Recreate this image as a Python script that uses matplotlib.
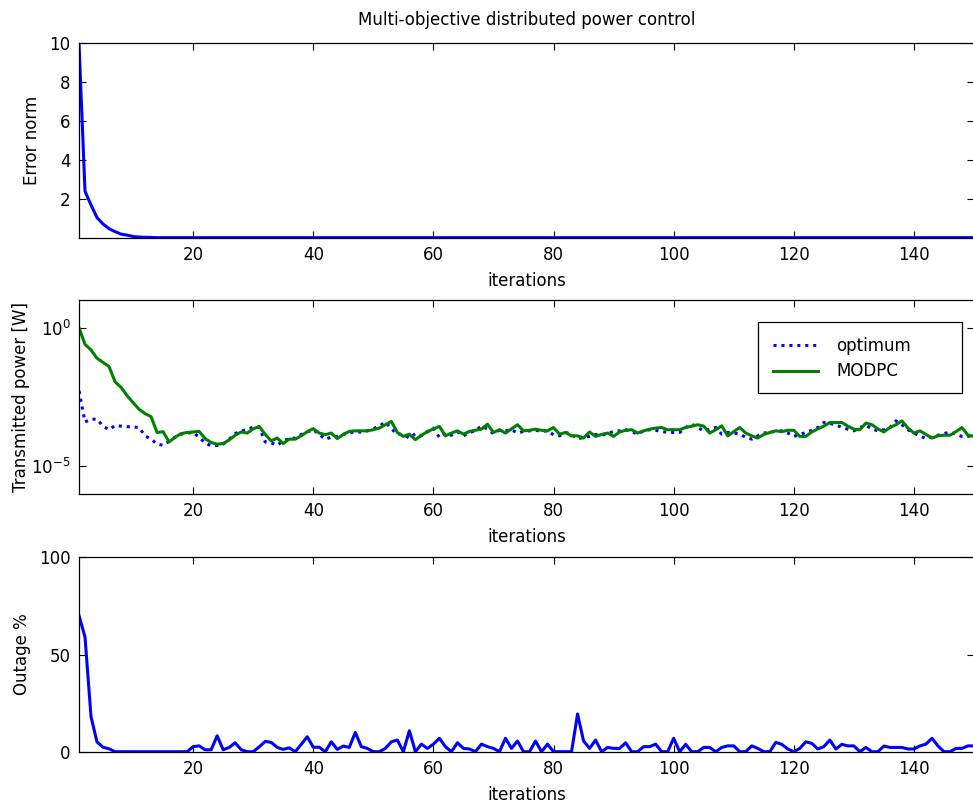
import matplotlib
matplotlib.use("Agg")
import matplotlib.pyplot as plt
from matplotlib.patches import Rectangle
from matplotlib.ticker import NullLocator, FixedFormatter
import numpy as np

plt.rcParams["font.family"] = ["DejaVu Sans"]
plt.rcParams["mathtext.fontset"] = "dejavusans"
plt.rcParams["mathtext.default"] = "regular"
plt.rcParams["font.size"] = 12

# error norm per iteration (flat after convergence)
error_norm = [10.0, 2.4, 1.7, 1.05, 0.72, 0.48, 0.33, 0.2, 0.15, 0.08,
              0.05, 0.04, 0.03, 0.02, 0.02] + [0.02] * 135

# transmitted power, log10 [W]
modpc_log = [
    0.0, -0.6, -0.8, -1.1, -1.25, -1.4, -1.95, -2.15, -2.45, -2.7,
    -2.94, -3.1, -3.21, -3.78, -3.75, -4.12, -3.95, -3.82, -3.78, -3.76,
    -3.74, -4.0, -4.14, -4.2, -4.18, -4.05, -3.88, -3.76, -3.8, -3.65,
    -3.56, -3.85, -4.08, -3.98, -4.18, -4.02, -4.02, -3.9, -3.75, -3.64,
    -3.8, -3.86, -3.8, -4.0, -3.85, -3.74, -3.72, -3.72, -3.72, -3.68,
    -3.62, -3.5, -3.38, -3.78, -3.92, -3.84, -4.04, -3.88, -3.75, -3.65,
    -3.56, -3.9, -3.8, -3.72, -3.84, -3.74, -3.7, -3.66, -3.48, -3.78,
    -3.68, -3.8, -3.65, -3.5, -3.72, -3.7, -3.66, -3.7, -3.72, -3.6,
    -3.84, -3.78, -3.9, -3.9, -3.98, -3.76, -3.92, -3.85, -3.8, -3.92,
    -3.76, -3.7, -3.68, -3.8, -3.72, -3.66, -3.62, -3.6, -3.68, -3.68,
    -3.68, -3.6, -3.55, -3.5, -3.55, -3.8, -3.68, -3.54, -3.9, -3.75,
    -3.6, -3.8, -3.9, -3.98, -3.85, -3.78, -3.72, -3.75, -3.7, -3.7,
    -3.92, -3.92, -3.76, -3.65, -3.55, -3.42, -3.42, -3.42, -3.55, -3.66,
    -3.68, -3.44, -3.5, -3.65, -3.76, -3.6, -3.5, -3.36, -3.62, -3.8,
    -3.72, -3.85, -3.98, -3.9, -3.88, -3.88, -3.75, -3.6, -3.88, -3.92,
]
optimum_log = [
    -2.28, -3.4, -3.3, -3.3, -3.55, -3.68, -3.53, -3.55, -3.57, -3.58,
    -3.6, -3.9, -4.02, -4.2, -4.24, -4.1, -3.95, -3.84, -3.8, -3.78,
    -3.95, -4.16, -4.26, -4.25, -4.2, -4.02, -3.82, -3.72, -3.68, -3.58,
    -3.6, -4.12, -4.15, -4.24, -4.08, -4.0, -3.98, -3.85, -3.76, -3.68,
    -3.85, -4.02, -3.95, -3.92, -3.85, -3.78, -3.77, -3.76, -3.72, -3.64,
    -3.55, -3.4, -3.65, -3.84, -3.85, -3.98, -3.82, -3.9, -3.75, -3.62,
    -3.96, -3.8, -3.88, -3.76, -3.9, -3.78, -3.72, -3.54, -3.66, -3.82,
    -3.7, -3.72, -3.68, -3.8, -3.74, -3.72, -3.7, -3.74, -3.72, -3.86,
    -3.9, -3.78, -3.84, -4.02, -3.95, -3.92, -3.85, -3.88, -3.82, -3.74,
    -3.72, -3.68, -3.75, -3.84, -3.72, -3.68, -3.7, -3.75, -3.77, -3.78,
    -3.78, -3.6, -3.48, -3.6, -3.72, -3.66, -3.6, -3.84, -3.78, -3.8,
    -3.84, -3.95, -4.02, -3.9, -3.8, -3.76, -3.74, -3.72, -3.8, -3.92,
    -3.85, -3.78, -3.7, -3.6, -3.42, -3.45, -3.5, -3.6, -3.66, -3.72,
    -3.6, -3.52, -3.65, -3.72, -3.68, -3.6, -3.36, -3.5, -3.68, -3.8,
    -3.9, -4.0, -3.95, -3.88, -3.82, -3.76, -3.85, -3.92, -3.92, -3.88,
]

# outage percentage
outage = [
    70, 59, 18, 5, 2.3, 1.5, 0, 0, 0, 0,
    0, 0, 0, 0, 0, 0, 0, 0, 0, 2.6,
    3, 1, 1, 8.2, 1, 2.2, 4.6, 1, 0, 0,
    2.5, 5.3, 4.8, 2.2, 1.2, 2, 0, 3.8, 7.7, 2.3,
    2.3, 0, 5.1, 1.2, 2.9, 2.2, 9.9, 2.6, 1.7, 0,
    0, 1.7, 5.1, 6, 0, 10.8, 0, 3.9, 1.7, 3.9,
    6.9, 2.6, 0, 4.6, 1.7, 1.4, 0, 3.9, 2.6, 1.7,
    0, 6.9, 1.7, 5.5, 0, 0, 5.5, 0, 3.9, 0,
    0, 0, 0, 19.4, 5.5, 1.7, 6, 0, 2.2, 1.7,
    1.7, 4.6, 0, 0, 2.6, 2.6, 3.9, 0, 0, 6.9,
    0, 3.8, 0, 0, 2.2, 2.2, 0, 2.2, 3, 3,
    0, 0, 3, 1.7, 0, 0, 4.8, 3.8, 1.4, 0,
    1.7, 5.1, 4.3, 1.4, 2.6, 6, 1.4, 3.8, 3, 3,
    0, 2.2, 0, 0, 2.9, 2.2, 2.2, 2.2, 1.4, 1.4,
    3, 3.9, 6.9, 3, 0, 0, 1.7, 1.7, 3, 3,
]

iters = np.arange(1, len(outage) + 1)
xticks = [20, 40, 60, 80, 100, 120, 140]

fig = plt.figure(figsize=(9.73, 8.05), dpi=100)
left, width = 79 / 973, 895 / 973
ax1 = fig.add_axes([left, 0.7043, width, 0.2419])
ax2 = fig.add_axes([left, 0.3863, width, 0.2410])
ax3 = fig.add_axes([left, 0.0662, width, 0.2415])


def style(ax):
    ax.set_xlim(1, 150)
    ax.set_xticks(xticks)
    ax.tick_params(direction="in", top=True, right=True, length=5, width=0.8,
                   labelsize=12, pad=6)
    for s in ax.spines.values():
        s.set_linewidth(0.9)
    ax.set_xlabel("iterations", fontsize=12, labelpad=5.5)


ax1.plot(iters, error_norm, color="#0000ff", lw=2.2)
style(ax1)
ax1.set_ylim(0, 10)
ax1.set_yticks([2, 4, 6, 8, 10])
ax1.set_ylabel("Error norm", fontsize=12, labelpad=6)
ax1.set_title("Multi-objective distributed power control", fontsize=12, pad=13)

ax2.semilogy(iters, 10.0 ** np.array(optimum_log), color="#0000ff", lw=2.2,
             ls=(0, (1, 1.6)), label="optimum")
ax2.semilogy(iters, 10.0 ** np.array(modpc_log), color="#008000", lw=2.2,
             label="MODPC")
style(ax2)
ax2.set_ylim(1e-6, 1e1)
ax2.set_yticks([1e-5, 1e0])
ax2.yaxis.set_major_formatter(FixedFormatter([r"$10^{-5}$", r"$10^{0}$"]))
ax2.yaxis.set_minor_locator(NullLocator())
ax2.set_ylabel("Transmitted power [W]", fontsize=12, labelpad=1)

# legend box drawn separately so it keeps the wide, padded look
ax2.add_patch(Rectangle((0.7587, 0.5206), 0.2279, 0.366, transform=ax2.transAxes,
                        facecolor="white", edgecolor="black", lw=0.9, zorder=4))
leg = ax2.legend(loc="upper left", bbox_to_anchor=(0.7754, 0.81),
                 borderaxespad=0, borderpad=0, frameon=False, fontsize=12,
                 handlelength=2.7, handletextpad=1.1, labelspacing=0.45)
leg.set_zorder(5)

ax3.plot(iters, outage, color="#0000ff", lw=2.2)
style(ax3)
ax3.set_ylim(0, 100)
ax3.set_yticks([0, 50, 100])
ax3.set_ylabel("Outage %", fontsize=12, labelpad=6)

fig.savefig("out.png", dpi=100)
